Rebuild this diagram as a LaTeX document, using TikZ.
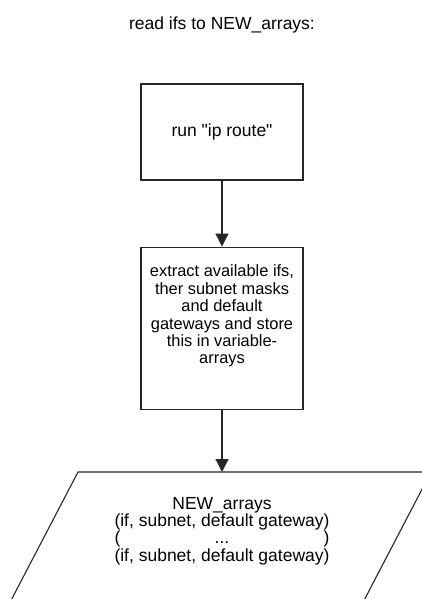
\documentclass[tikz,border=0pt]{standalone}
\usepackage{fontspec}
\setmainfont{Liberation Sans}
\usepackage{tikz}
\usetikzlibrary{arrows.meta,positioning}
\newcommand{\dotsrow}[1]{{\setbox0\hbox{#1}\hbox to \wd0{(\hfill...\hfill)}}}

\begin{document}
\begin{tikzpicture}[
    x=1pt,y=-1pt,
    node distance=66pt,
    every node/.style={font=\fontsize{17.5}{17.4}\selectfont},
    procbox/.style={draw=black!85,line width=1.1pt,minimum width=162pt,inner sep=0pt},
    arr/.style={-{Triangle[length=13pt,width=13pt]},line width=1.1pt,draw=black!85}
]
\clip (0,0) rectangle (422,599);
\node (title) at (222,25) {read ifs to NEW\_arrays:};
\node[procbox,minimum height=96pt] (route) at (222,132) {run \textquotedbl ip route\textquotedbl};
\node[procbox,minimum height=162pt,below=of route] (extract) {};
\node[align=center,font=\fontsize{16.4}{17.4}\selectfont] (extracttxt) at ([yshift=12pt]extract.center) {extract available ifs,\\ther subnet masks\\and default\\gateways and store\\this in variable-\\arrays};
% output parallelogram, cut by the lower edge
\coordinate (outtop) at (222,472);
\draw[black!85,line width=1.1pt] (78,472) -- (431,472) -- (359,610) -- (6,610) -- cycle;
\node[align=center] (arrays) at (222,531) {NEW\_arrays\\(if, subnet, default gateway)\\\dotsrow{(if, subnet, default gateway)}\\(if, subnet, default gateway)};
\draw[arr] (route)--(extract);
\draw[arr] (extract)--(outtop);
\end{tikzpicture}
\end{document}
